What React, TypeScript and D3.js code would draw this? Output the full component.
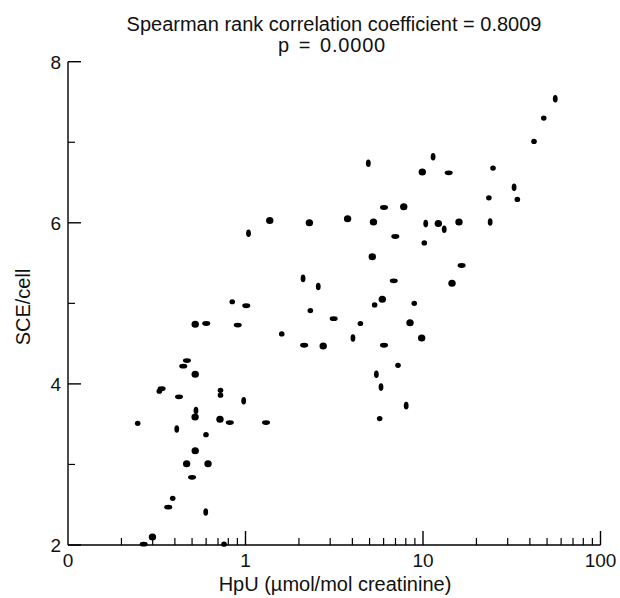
import React from 'react';
import * as d3 from 'd3';

// HpU (µmol/mol creatinine)
const hpu = [
  55.6, 47.9, 42.2, 11.4, 4.92, 9.91, 13.96, 24.8, 32.6, 23.5,
  34.0, 6.03, 7.79, 1.37, 2.29, 3.76, 5.26, 10.36, 12.2, 13.17,
  15.95, 23.9, 1.04, 6.98, 5.18, 10.17, 16.5, 2.11, 2.57, 6.84,
  14.57, 5.90, 5.34, 8.93, 0.842, 1.01, 2.32, 3.14, 4.44, 8.45,
  0.601, 0.521, 0.904, 1.60, 2.14, 2.74, 4.03, 6.03, 9.83, 7.23,
  5.46, 5.80, 8.04, 5.70, 0.468, 0.446, 0.521, 0.337, 0.327, 0.422,
  0.723, 0.723, 0.977, 0.526, 0.52, 0.718, 0.816, 1.305, 0.247, 0.41,
  0.599, 0.521, 0.466, 0.615, 0.50, 0.389, 0.367, 0.597, 0.299, 0.267,
  0.757,
];
// SCE/cell
const sce = [
  7.54, 7.30, 7.01, 6.82, 6.74, 6.63, 6.62, 6.68, 6.44, 6.31,
  6.29, 6.19, 6.20, 6.03, 6.00, 6.05, 6.01, 5.99, 5.99, 5.92,
  6.01, 6.01, 5.87, 5.83, 5.58, 5.75, 5.47, 5.31, 5.21, 5.28,
  5.25, 5.05, 4.98, 5.00, 5.02, 4.97, 4.91, 4.81, 4.75, 4.76,
  4.75, 4.74, 4.73, 4.62, 4.48, 4.47, 4.57, 4.48, 4.57, 4.23,
  4.12, 3.96, 3.73, 3.57, 4.29, 4.22, 4.12, 3.94, 3.91, 3.84,
  3.92, 3.86, 3.79, 3.67, 3.59, 3.56, 3.52, 3.52, 3.51, 3.44,
  3.37, 3.17, 3.01, 3.01, 2.84, 2.58, 2.47, 2.41, 2.10, 2.01,
  2.01,
];
// marker glyph per point: O big dot, o small dot, h wide oval, v tall oval
const glyph = [
  'v', 'o', 'o', 'v', 'v', 'O', 'h', 'o', 'v', 'o',
  'o', 'h', 'O', 'O', 'O', 'O', 'O', 'v', 'O', 'v',
  'O', 'v', 'v', 'h', 'O', 'o', 'h', 'v', 'v', 'h',
  'O', 'O', 'o', 'o', 'o', 'h', 'o', 'h', 'o', 'O',
  'h', 'O', 'h', 'o', 'h', 'O', 'v', 'h', 'O', 'o',
  'v', 'v', 'v', 'o', 'h', 'h', 'O', 'h', 'o', 'h',
  'o', 'o', 'v', 'v', 'O', 'O', 'h', 'h', 'o', 'v',
  'o', 'O', 'O', 'O', 'h', 'o', 'h', 'v', 'O', 'h',
  'o',
];

const xMajor = [0.1, 1, 10, 100];
const xMajorLabels = ['0', '1', '10', '100'];
const yMajor = [2, 4, 6, 8];
const yMinor = [3, 5, 7];

const titleLine1 = 'Spearman rank correlation coefficient = 0.8009';
const titleLine2 = 'p = 0.0000';
const xTitle = 'HpU (\u00b5mol/mol creatinine)';
const yTitle = 'SCE/cell';

const FONT = "'Liberation Sans', Arial, sans-serif";

export default function App() {
  const W = 620, H = 598;
  const x = d3.scaleLog().domain([0.1, 100]).range([68, 600.5]);
  const y = d3.scaleLinear().domain([2, 8]).range([545, 61.7]);

  const xMinor: number[] = [];
  [0.1, 1, 10].forEach((d) => {
    for (let k = 2; k <= 9; k++) xMinor.push(d * k);
  });

  const radii: Record<string, [number, number]> = {
    O: [3.7, 3.5],
    o: [2.8, 2.6],
    h: [4.0, 2.4],
    v: [2.4, 3.8],
  };

  const x0 = x.range()[0];
  const y0 = y.range()[0];

  return (
    <svg
      width={W}
      height={H}
      style={{ position: 'absolute', left: 0, top: 0, background: '#fff' }}
      fontFamily={FONT}
    >
      <rect width={W} height={H} fill="#fff" />
      <text textAnchor="middle" fontSize={20} fill="#111">
        <tspan x={334} y={31}>{titleLine1}</tspan>
        <tspan x={332} y={52} wordSpacing={2.5} letterSpacing={0.8}>{titleLine2}</tspan>
      </text>

      {/* axes */}
      <line x1={x0} x2={x0} y1={y(8)} y2={y0} stroke="#000" strokeWidth={1.4} />
      <line x1={x0} x2={x.range()[1]} y1={y0} y2={y0} stroke="#000" strokeWidth={1.4} />

      {yMajor.map((v) => (
        <g key={'ym' + v}>
          <line x1={x0} x2={x0 + 13} y1={y(v)} y2={y(v)} stroke="#000" strokeWidth={1.4} />
          <text x={x0 - 7} y={y(v)} dy="0.36em" textAnchor="end" fontSize={19} fill="#111">{v}</text>
        </g>
      ))}
      {yMinor.map((v) => (
        <line key={'yn' + v} x1={x0} x2={x0 + 7} y1={y(v)} y2={y(v)} stroke="#000" strokeWidth={1.2} />
      ))}
      {xMajor.map((v, i) => (
        <g key={'xm' + v}>
          {i > 0 && <line x1={x(v)} x2={x(v)} y1={y0} y2={y0 - 14} stroke="#000" strokeWidth={1.4} />}
          <text x={x(v)} y={y0 + 22} textAnchor="middle" fontSize={19} fill="#111">{xMajorLabels[i]}</text>
        </g>
      ))}
      {xMinor.map((v) => (
        <line key={'xn' + v} x1={x(v)} x2={x(v)} y1={y0} y2={y0 - 7} stroke="#000" strokeWidth={1.2} />
      ))}

      <text x={335} y={591} textAnchor="middle" fontSize={20} fill="#111">{xTitle}</text>
      <text
        transform={`translate(30, ${307}) rotate(-90)`}
        textAnchor="middle"
        fontSize={20}
        fill="#111"
      >
        {yTitle}
      </text>

      {hpu.map((v, i) => {
        const [rx, ry] = radii[glyph[i]];
        return <ellipse key={i} cx={x(v)} cy={y(sce[i])} rx={rx} ry={ry} fill="#000" />;
      })}
    </svg>
  );
}
